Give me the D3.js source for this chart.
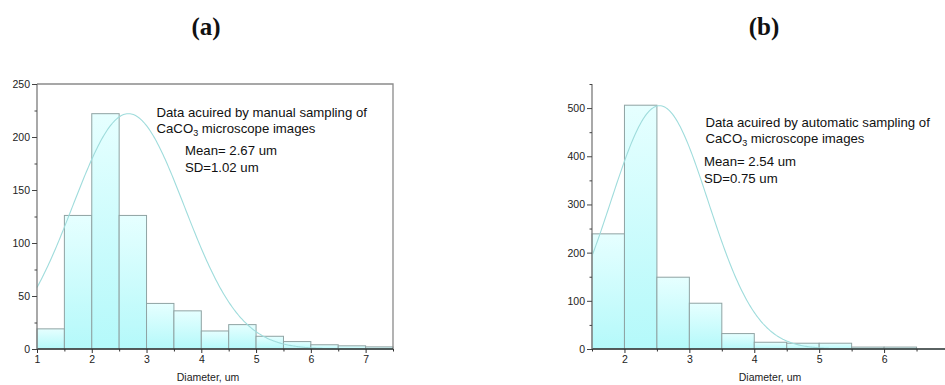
<!DOCTYPE html>
<html>
<head>
<meta charset="utf-8">
<script src="https://cdn.jsdelivr.net/npm/d3@7"></script>
<style>
  body { margin: 0; background: #fff; overflow: hidden; }
  svg text { font-family: "Liberation Sans", Arial, sans-serif; }
</style>
</head>
<body>
<svg id="fig" width="945" height="385"></svg>
<script>
// Particle size histograms (bin width 0.5 um)
const panelTitles = ["(a)", "(b)"];
const binStartsA = [1, 1.5, 2, 2.5, 3, 3.5, 4, 4.5, 5, 5.5, 6, 6.5, 7];
const countsA    = [19, 126, 222, 126, 43, 36, 17, 23, 12, 7, 4, 3, 2];
const binStartsB = [1.5, 2, 2.5, 3, 3.5, 4, 4.5, 5, 5.5, 6];
const countsB    = [239, 506, 149, 95, 32, 14, 12, 12, 4, 4];
const binWidth = 0.5;

const xTicksA = [1, 2, 3, 4, 5, 6, 7];
const xTicksB = [2, 3, 4, 5, 6];
const yTicksA = [0, 50, 100, 150, 200, 250];
const yTicksB = [0, 100, 200, 300, 400, 500];

// Normal fit shown over each histogram
const fitMean = [2.67, 2.54];
const fitSD   = [1.02, 0.75];
const fitPeak = [222, 505];

const noteHeads = ["Data acuired by manual sampling of", "Data acuired by automatic sampling of"];
const meanLabels = ["Mean= 2.67 um", "Mean= 2.54 um"];
const sdLabels = ["SD=1.02 um", "SD=0.75 um"];
const xAxisTitle = "Diameter, um";

const svg = d3.select("#fig");

const grad = svg.append("defs").append("linearGradient")
  .attr("id", "barFill").attr("x1", 0).attr("y1", 0).attr("x2", 0).attr("y2", 1);
grad.append("stop").attr("offset", "0%").attr("stop-color", "#e6ffff");
grad.append("stop").attr("offset", "100%").attr("stop-color", "#b4f9fa");

const panels = [
  { starts: binStartsA, counts: countsA, xDom: [1, 7.5], yDom: [0, 250],
    left: 37, right: 393, top: 84, bottom: 349, xTicks: xTicksA, yTicks: yTicksA,
    yMinorStep: 25, frame: true, titleX: 206, titleY: 35, axisTitleX: 208,
    note: { x: 156.5, y1: 116.5, y2: 132.5, mx: 185, ym: 155, ys: 171.7 } },
  { starts: binStartsB, counts: countsB, xDom: [1.5, 7], yDom: [0, 550],
    left: 592, right: 949, top: 84, bottom: 349, xTicks: xTicksB, yTicks: yTicksB,
    yMinorStep: 50, frame: false, titleX: 764, titleY: 35, axisTitleX: 770,
    note: { x: 705.5, y1: 126.5, y2: 142.5, mx: 704, ym: 165.5, ys: 182.5 } }
];

panels.forEach((p, i) => {
  const x = d3.scaleLinear().domain(p.xDom).range([p.left, p.right]);
  const y = d3.scaleLinear().domain(p.yDom).range([p.bottom, p.top]);
  const g = svg.append("g");

  // panel label
  svg.append("text").attr("x", p.titleX).attr("y", p.titleY)
    .attr("text-anchor", "middle")
    .style("font-family", "'Liberation Serif', 'DejaVu Serif', serif")
    .style("font-weight", "bold").style("font-size", "25px").attr("fill", "#111")
    .text(panelTitles[i]);

  // bars
  const bins = p.starts.map((s, k) => ({ s, c: p.counts[k] }));
  g.selectAll("rect.bar").data(bins).join("rect").attr("class", "bar")
    .attr("x", d => x(d.s))
    .attr("y", d => y(d.c))
    .attr("width", d => x(d.s + binWidth) - x(d.s))
    .attr("height", d => y(0) - y(d.c))
    .attr("fill", "url(#barFill)")
    .attr("stroke", "#8fa3a3").attr("stroke-width", 1);

  // fitted normal curve
  const xs = d3.range(p.xDom[0], p.xDom[1] + 1e-9, 0.02);
  const line = d3.line()
    .x(d => x(d))
    .y(d => y(fitPeak[i] * Math.exp(-((d - fitMean[i]) ** 2) / (2 * fitSD[i] ** 2))));
  g.append("path").datum(xs).attr("d", line)
    .attr("fill", "none").attr("stroke", "#9fdcdc").attr("stroke-width", 1.1);

  // frame (top & right)
  if (p.frame) {
    g.append("path")
      .attr("d", `M${p.left},${p.top}H${p.right}V${p.bottom}`)
      .attr("fill", "none").attr("stroke", "#8a8a8a").attr("stroke-width", 1.3);
  }

  // x axis: major ticks at integers, minor at half steps
  const xMinor = d3.range(p.xDom[0], p.xDom[1] + 1e-9, 0.5).filter(v => !Number.isInteger(v));
  const xa = g.append("g").attr("transform", `translate(0,${p.bottom})`)
    .call(d3.axisBottom(x).tickValues(p.xTicks).tickSize(4).tickPadding(3).tickFormat(d3.format("d")));
  const xm = g.append("g").attr("transform", `translate(0,${p.bottom})`)
    .call(d3.axisBottom(x).tickValues(xMinor).tickSize(2.5).tickFormat(""));
  xm.select(".domain").remove();
  xa.select(".domain").attr("d", `M${p.left},0H${p.right}`).attr("stroke", "#333").attr("stroke-width", 1.3);
  [xa, xm].forEach(a => a.selectAll(".tick line").attr("stroke", "#333"));

  // y axis: major + minor ticks pointing outward
  const yMinor = d3.range(p.yDom[0], p.yDom[1] + 1e-9, p.yMinorStep).filter(v => !p.yTicks.includes(v));
  const ya = g.append("g").attr("transform", `translate(${p.left},0)`)
    .call(d3.axisLeft(y).tickValues(p.yTicks).tickSize(5).tickPadding(2));
  const ym = g.append("g").attr("transform", `translate(${p.left},0)`)
    .call(d3.axisLeft(y).tickValues(yMinor).tickSize(2.5).tickFormat(""));
  ym.select(".domain").remove();
  ya.select(".domain").attr("d", `M0,${p.top}V${p.bottom}`).attr("stroke", "#7a7a7a").attr("stroke-width", 1.3);
  [ya, ym].forEach(a => a.selectAll(".tick line").attr("stroke", "#444"));

  [xa, ya].forEach(a => a.selectAll(".tick text")
    .style("font-size", "10.5px").attr("fill", "#222")
    .style("font-family", "'Liberation Sans', Arial, sans-serif"));

  // axis title
  g.append("text").attr("x", p.axisTitleX).attr("y", 380.5).attr("text-anchor", "middle")
    .style("font-size", "10.5px").attr("fill", "#222").text(xAxisTitle);

  // annotation
  const n = p.note;
  const ann = g.append("g").style("font-size", "13.2px").attr("fill", "#111");
  ann.append("text").attr("x", n.x).attr("y", n.y1).text(noteHeads[i]);
  const t2 = ann.append("text").attr("x", n.x).attr("y", n.y2);
  t2.append("tspan").text("CaCO");
  t2.append("tspan").attr("dy", 3).style("font-size", "9px").text("3");
  t2.append("tspan").attr("dy", -3).text(" microscope images");
  ann.append("text").attr("x", n.mx).attr("y", n.ym).text(meanLabels[i]);
  ann.append("text").attr("x", n.mx).attr("y", n.ys).text(sdLabels[i]);
});
</script>
</body>
</html>
